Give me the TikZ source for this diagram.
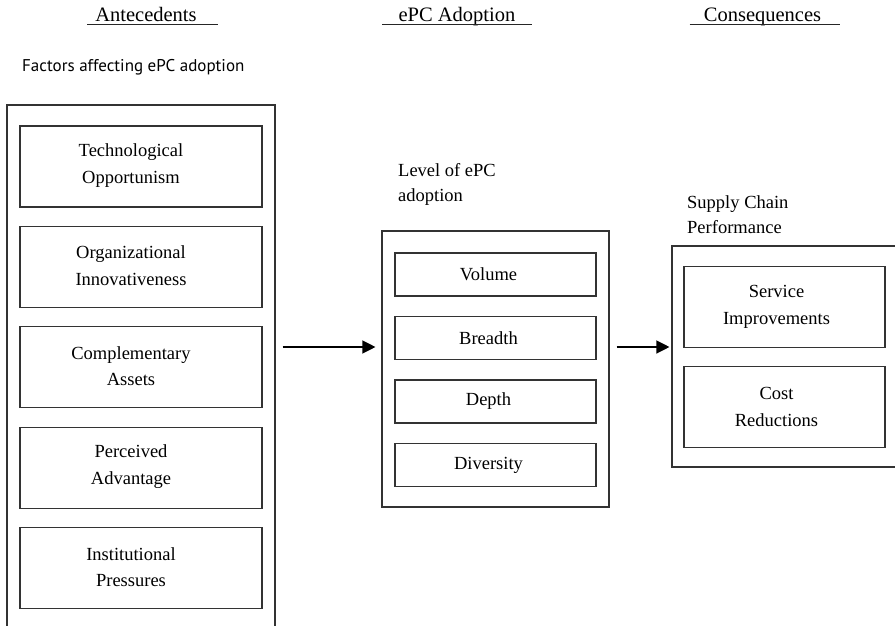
\documentclass[tikz,border=0pt]{standalone}
\usepackage{fontspec}
\setmainfont{Liberation Serif}
\newfontfamily\factorfont{PT Sans}
\usetikzlibrary{arrows.meta,calc}

\tikzset{
    lineclr/.style={draw=black!80, line width=1.1pt},
    groupbox/.style={lineclr, inner sep=0pt},
    itembox/.style={lineclr, inner sep=0pt, minimum width=242pt, minimum height=81pt},
    dimbox/.style={lineclr, inner sep=0pt, minimum width=201pt, minimum height=43pt},
    itemtext/.style={align=center, inner sep=0pt, font=\fontsize{18.5}{26.5}\selectfont},
    grouptitle/.style={align=left, anchor=north west, inner sep=0pt, font=\fontsize{18.5}{25}\selectfont},
    header/.style={anchor=base, inner sep=0pt, font=\fontsize{20.5}{24}\selectfont},
    uline/.style={draw=black!85, line width=1pt},
    flow/.style={draw=black, line width=1.2pt, -{Triangle[length=13pt, width=13pt]}}
}

\begin{document}
\begin{tikzpicture}[x=1pt, y=-1pt]
\clip (0,0) rectangle (895,626);
\fill[white] (0,0) rectangle (895,626);

% Headers
\node[header] (hAnte) at (146,22) {Antecedents};
\node[header] (hAdopt) at (457,22) {ePC Adoption};
\node[header] (hCons) at (762.5,22) {Consequences};
\draw[uline] ([xshift=-8pt,yshift=-3pt]hAnte.base west) -- ([xshift=21pt,yshift=-3pt]hAnte.base east);
\draw[uline] ([xshift=-16pt,yshift=-3pt]hAdopt.base west) -- ([xshift=16pt,yshift=-3pt]hAdopt.base east);
\draw[uline] ([xshift=-14pt,yshift=-3pt]hCons.base west) -- ([xshift=19pt,yshift=-3pt]hCons.base east);

% Antecedents
\node[anchor=base west, inner sep=0pt, font=\factorfont\fontsize{17}{20}\selectfont] (factors) at (22,72) {Factors affecting ePC adoption};
\node[groupbox, minimum width=268pt, minimum height=545pt] (ante) at (141,377.5) {};
\foreach \name/\txt [count=\i from 0] in {techop/Technological\\Opportunism,
    orginn/Organizational\\Innovativeness, compas/Complementary\\Assets,
    peradv/Perceived\\Advantage, instpr/Institutional\\Pressures}{
    \node[itembox] (\name) at (141,166.5+100.4*\i) {};
    \node[itemtext] (\name txt) at ([xshift=-10pt,yshift=1pt]\name.center) {\txt};
}

% ePC adoption
\node[grouptitle] (leveltitle) at (398,163) {Level of ePC\\adoption};
\node[groupbox, minimum width=227pt, minimum height=276pt] (adopt) at (495.5,369) {};
\foreach \name/\txt [count=\i from 0] in {volume/Volume, breadth/Breadth, depth/Depth, diversity/Diversity}{
    \node[dimbox] (\name) at (495.5,274.5+63.5*\i) {};
    \node[itemtext] (\name txt) at ([xshift=-7pt]\name.center) {\txt};
}

% Consequences
\node[grouptitle] (perftitle) at (687,195) {Supply Chain\\Performance};
\node[groupbox, minimum width=250pt, minimum height=221pt] (perf) at (797,356.5) {};
\node[itembox, minimum width=201pt] (service) at (784.5,307) {};
\node[itemtext] (servicetxt) at ([xshift=-8pt]service.center) {Service\\Improvements};
\node[itembox, minimum width=201pt] (cost) at (784.5,407) {};
\node[itemtext] (costtxt) at ([xshift=-8pt]cost.center) {Cost\\Reductions};

% Arrows
\coordinate (flowy) at (0,347);
\draw[flow] ([xshift=7pt]ante.east |- flowy) -- ([xshift=-6pt]adopt.west |- flowy);
\draw[flow] ([xshift=7pt]adopt.east |- flowy) -- ([xshift=-2pt]perf.west |- flowy);

\end{tikzpicture}
\end{document}
